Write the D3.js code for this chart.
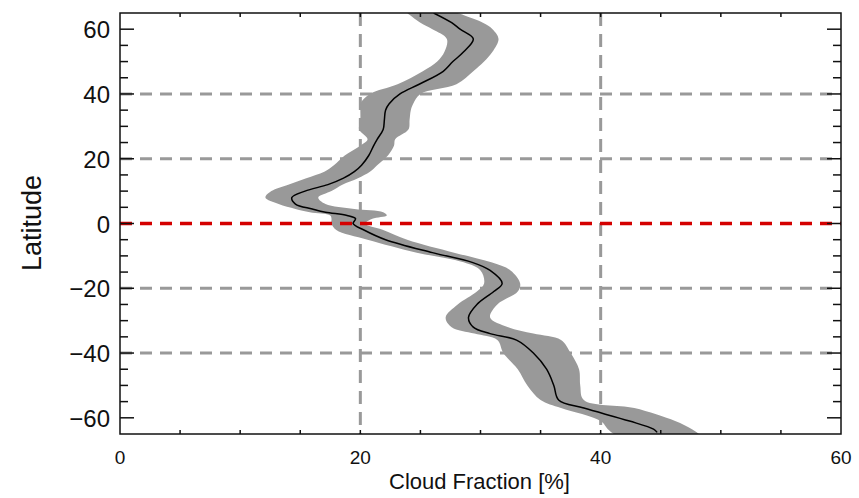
<!DOCTYPE html>
<html>
<head>
<meta charset="utf-8">
<script src="https://cdn.jsdelivr.net/npm/d3@7"></script>
<style>
  body { margin: 0; background: #fff; }
  text { font-family: "Liberation Sans", Arial, Helvetica, sans-serif; fill: #111; }
</style>
</head>
<body>
<svg id="chart" width="859" height="498"></svg>
<script>
// latitude rows (deg)
var lat  = [65, 62, 60, 57, 53, 50, 47, 43, 40, 37, 35, 32, 29, 26, 24, 21, 18, 16, 14, 12, 10, 8, 6, 4.5, 3.5, 2.5, 1.5, 0,
            -2, -5, -9, -12, -14.5, -18.5, -21, -25, -29, -32, -34, -36, -40, -45, -50, -54.5, -57, -61, -63.5, -65];
// mean cloud fraction [%]
var mean = [26.1, 27.6, 28.3, 29.4, 28.6, 27.7, 26.9, 24.9, 23.3, 22.4, 22.1, 22.0, 21.9, 21.4, 21.1, 20.7, 20.1, 19.5, 18.6, 17.3, 15.4, 14.3, 14.6, 16.0, 17.1, 18.9, 19.6, 19.4,
            20.3, 22.1, 26.0, 29.3, 30.8, 31.8, 31.1, 29.7, 29.0, 29.4, 30.8, 33.0, 34.4, 35.5, 36.1, 36.5, 38.6, 42.4, 44.4, null];
// spread band, low and high edge [%]
var low  = [23.9, 25.0, 26.0, 27.2, 27.0, 26.4, 25.2, 23.1, 20.8, 20.0, 20.0, 20.0, 19.9, 20.6, 20.0, 18.7, 17.8, 17.0, 15.5, 14.0, 12.6, 12.1, 13.2, 14.6, 15.8, 17.5, 17.6, 17.6,
            18.0, 20.6, 24.7, 28.6, 30.0, 30.3, 29.7, 28.1, 27.1, 27.6, 29.5, 31.4, 31.9, 33.1, 33.9, 35.0, 36.7, 40.0, 40.6, 41.1];
var high = [28.1, 30.2, 31.0, 31.5, 31.0, 30.3, 29.4, 28.0, 25.0, 24.4, 24.2, 24.1, 24.0, 22.9, 22.8, 22.3, 21.4, 20.8, 19.8, 18.5, 17.6, 16.5, 17.1, 19.5, 21.9, 22.2, 21.0, 20.4,
            21.9, 23.9, 27.8, 30.9, 32.5, 33.3, 33.1, 31.4, 30.8, 32.3, 34.4, 36.7, 37.5, 38.2, 38.3, 38.6, 42.8, 46.2, 47.6, 48.2];
var meanEnd = {lat: -64.5, v: 44.7};

var xTicks = [0, 20, 40, 60];
var yTicks = [-60, -40, -20, 0, 20, 40, 60];
var gridX = [20, 40];
var gridY = [-40, -20, 20, 40];

var svg = d3.select("#chart");
var pL = 120, pR = 841, pT = 13, pB = 434;

var x = d3.scaleLinear().domain([0, 60]).range([pL, pR]);
var y = d3.scaleLinear().domain([-65, 65]).range([pB, pT]);

var rows = lat.map(function(d, i) { return {lat: d, m: mean[i], lo: low[i], hi: high[i]}; });
var meanRows = rows.filter(function(d) { return d.m != null; });
meanRows.push({lat: meanEnd.lat, m: meanEnd.v});

svg.append("clipPath").attr("id", "plot")
  .append("rect").attr("x", pL).attr("y", pT).attr("width", pR - pL).attr("height", pB - pT);

// grid
var grid = svg.append("g").attr("clip-path", "url(#plot)");
grid.selectAll(".gy").data(gridY).enter().append("line")
  .attr("x1", pL).attr("x2", pR)
  .attr("y1", function(d) { return y(d); }).attr("y2", function(d) { return y(d); })
  .attr("stroke", "#999").attr("stroke-width", 3).attr("stroke-dasharray", "12 8");
grid.selectAll(".gx").data(gridX).enter().append("line")
  .attr("y1", pT).attr("y2", pB)
  .attr("x1", function(d) { return x(d); }).attr("x2", function(d) { return x(d); })
  .attr("stroke", "#999").attr("stroke-width", 3).attr("stroke-dasharray", "13 8");

// band
var area = d3.area()
  .y(function(d) { return y(d.lat); })
  .x0(function(d) { return x(d.lo); })
  .x1(function(d) { return x(d.hi); })
  .curve(d3.curveCatmullRom);
grid.append("path").datum(rows).attr("d", area).attr("fill", "#999");

// equator
grid.append("line")
  .attr("x1", pL).attr("x2", pR).attr("y1", y(0)).attr("y2", y(0))
  .attr("stroke", "#d40000").attr("stroke-width", 3.5).attr("stroke-dasharray", "12 8");

// mean
var line = d3.line()
  .y(function(d) { return y(d.lat); })
  .x(function(d) { return x(d.m); })
  .curve(d3.curveCatmullRom);
grid.append("path").datum(meanRows).attr("d", line)
  .attr("fill", "none").attr("stroke", "#000").attr("stroke-width", 1.5);

// frame and ticks
var ax = svg.append("g").attr("stroke", "#111").attr("stroke-width", 1.5);
ax.append("rect").attr("x", pL).attr("y", pT).attr("width", pR - pL).attr("height", pB - pT).attr("fill", "none");

d3.range(-60, 61, 5).forEach(function(v) {
  var len = v % 20 === 0 ? 14 : 8;
  ax.append("line").attr("x1", pL).attr("x2", pL + len).attr("y1", y(v)).attr("y2", y(v));
  ax.append("line").attr("x1", pR).attr("x2", pR - len).attr("y1", y(v)).attr("y2", y(v));
});
d3.range(5, 60, 5).forEach(function(v) {
  ax.append("line").attr("y1", pB).attr("y2", pB - 4).attr("x1", x(v)).attr("x2", x(v));
  ax.append("line").attr("y1", pT).attr("y2", pT + 4).attr("x1", x(v)).attr("x2", x(v));
});

// labels
svg.selectAll(".yl").data(yTicks).enter().append("text")
  .attr("x", 110).attr("y", function(d) { return y(d) + 9; })
  .attr("text-anchor", "end").attr("font-size", 24)
  .text(function(d) { return d < 0 ? "\u2212" + (-d) : d; });

svg.selectAll(".xl").data(xTicks).enter().append("text")
  .attr("x", function(d) { return x(d); }).attr("y", 464)
  .attr("text-anchor", "middle").attr("font-size", 19)
  .text(function(d) { return d; });

svg.append("text")
  .attr("x", (pL + pR) / 2 - 1).attr("y", 489)
  .attr("text-anchor", "middle").attr("font-size", 22)
  .text("Cloud Fraction [%]");

svg.append("text")
  .attr("transform", "translate(41,223) rotate(-90)")
  .attr("text-anchor", "middle").attr("font-size", 27)
  .text("Latitude");
</script>
</body>
</html>
